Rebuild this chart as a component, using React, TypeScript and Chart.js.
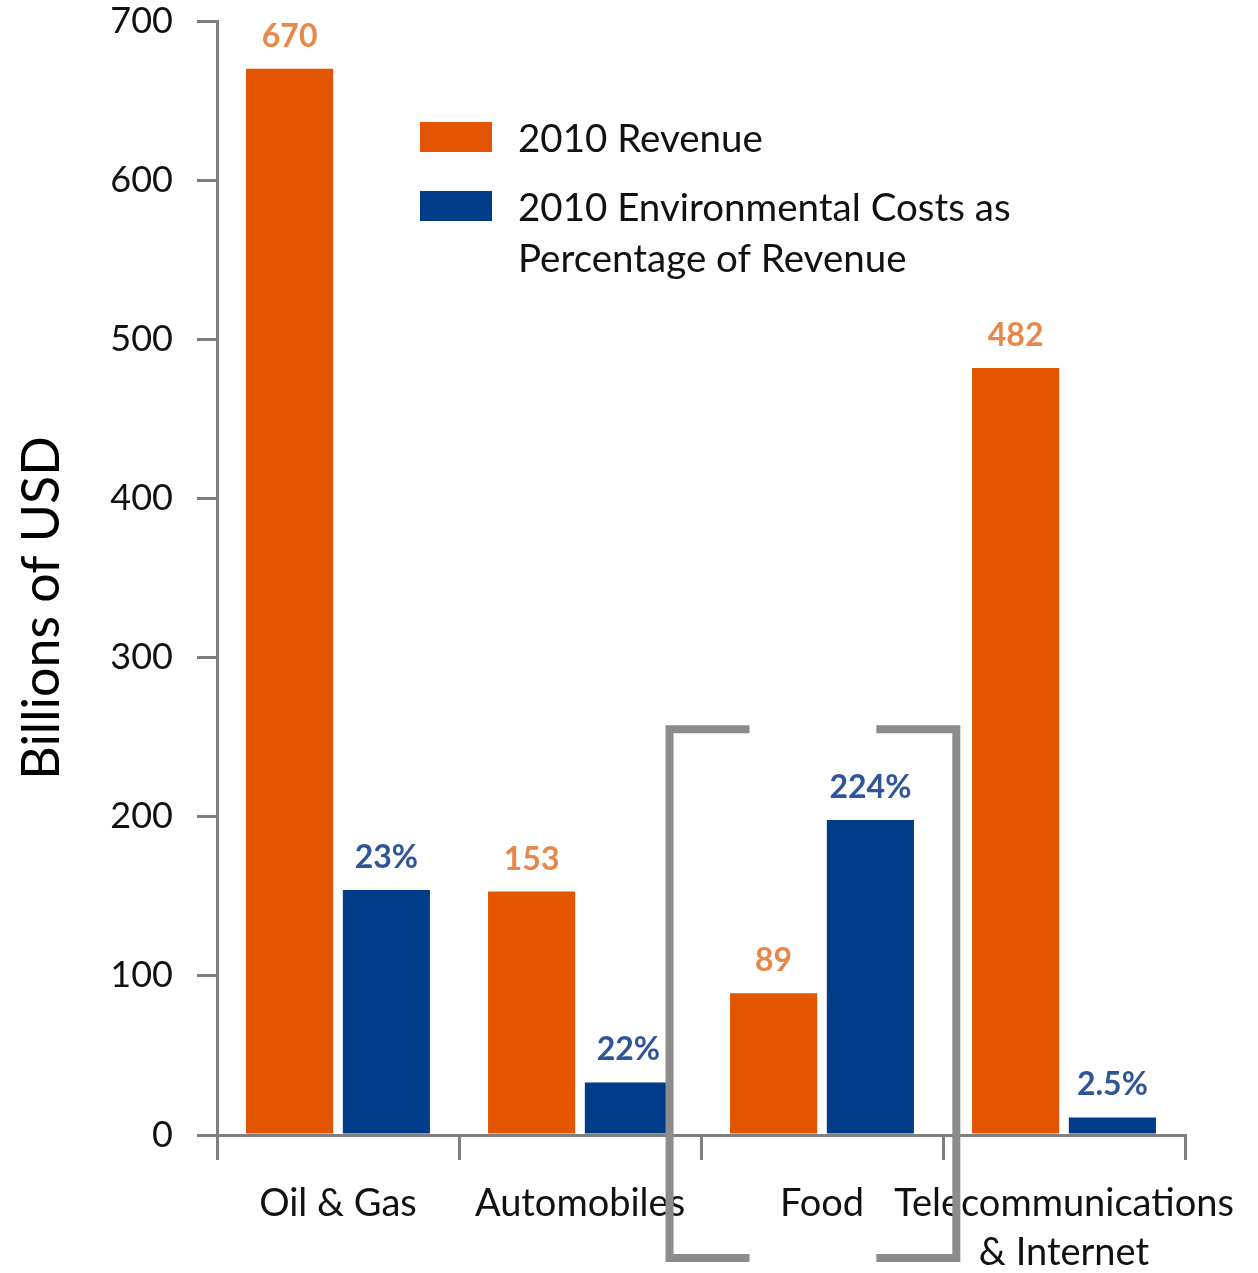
import React, { useEffect, useRef } from "react";
import { Chart, registerables } from "chart.js";

Chart.register(...registerables);

const categories: (string | string[])[] = ["Oil & Gas", "Automobiles", "Food", ["Telecommunications", "& Internet"]];
const revenue = [670, 153, 89, 482];
const envCostBars = [154, 33, 198, 11];
const revenueLabels = ["670", "153", "89", "482"];
const envCostLabels = ["23%", "22%", "224%", "2.5%"];
const seriesNames = ["2010 Revenue", "2010 Environmental Costs as\nPercentage of Revenue"];
const yAxisTitle = "Billions of USD";
const highlightIndex = 2;

const ORANGE = "#E35500";
const BLUE = "#003C88";
const ORANGE_TXT = "#E8874A";
const BLUE_TXT = "#2F5597";
const AXIS = "#7f7f7f";
const FONT = "Lato";

const W = 1258;
const H = 1273;

export default function App() {
  const ref = useRef<HTMLCanvasElement | null>(null);

  useEffect(() => {
    document.body.style.margin = "0";
    const canvas = ref.current!;
    const labelsPlugin = {
      id: "barLabels",
      afterDatasetsDraw(chart: any) {
        const ctx = chart.ctx;
        ctx.save();
        ctx.font = `bold 32px ${FONT}`;
        ctx.textAlign = "center";
        ctx.textBaseline = "alphabetic";
        const lists = [revenueLabels, envCostLabels];
        const colors = [ORANGE_TXT, BLUE_TXT];
        chart.data.datasets.forEach((_: any, di: number) => {
          const meta = chart.getDatasetMeta(di);
          meta.data.forEach((el: any, i: number) => {
            ctx.fillStyle = colors[di];
            ctx.fillText(lists[di][i], el.x, el.y - 22);
          });
        });
        ctx.restore();
      },
    };
    const extrasPlugin = {
      id: "extras",
      afterDraw(chart: any) {
        const ctx = chart.ctx;
        const area = chart.chartArea;
        const xs = chart.scales.x;
        const ys = chart.scales.y;
        // y axis title
        ctx.save();
        ctx.fillStyle = "#000";
        ctx.font = `52px ${FONT}`;
        ctx.textAlign = "center";
        ctx.textBaseline = "middle";
        ctx.translate(42, (area.top + area.bottom) / 2 + 30);
        ctx.rotate(-Math.PI / 2);
        ctx.fillText(yAxisTitle, 0, 0);
        ctx.restore();

        // legend
        ctx.save();
        const lx = 420;
        const rows = [
          { y: 122, color: ORANGE },
          { y: 191, color: BLUE },
        ];
        ctx.font = `38.5px ${FONT}`;
        ctx.textBaseline = "middle";
        ctx.textAlign = "left";
        rows.forEach((r, i) => {
          ctx.fillStyle = r.color;
          ctx.fillRect(lx, r.y, 72, 30);
          ctx.fillStyle = "#111";
          const lines = seriesNames[i].split("\n");
          lines.forEach((ln, k) => ctx.fillText(ln, lx + 98, r.y + 18 + k * 51));
        });
        ctx.restore();

        // bracket around highlighted category
        const cx = xs.getPixelForValue(highlightIndex);
        const catW = (xs.right - xs.left) / categories.length;
        const top = ys.getPixelForValue(255);
        const bottom = area.bottom + 123;
        const lxB = cx - catW * 0.63;
        const rxB = cx + catW * 0.555;
        const arm = 80;
        ctx.save();
        ctx.strokeStyle = "#8c8c8c";
        ctx.lineWidth = 8;
        ctx.lineJoin = "miter";
        ctx.beginPath();
        ctx.moveTo(lxB + arm, top);
        ctx.lineTo(lxB, top);
        ctx.lineTo(lxB, bottom);
        ctx.lineTo(lxB + arm, bottom);
        ctx.stroke();
        ctx.beginPath();
        ctx.moveTo(rxB - arm, top);
        ctx.lineTo(rxB, top);
        ctx.lineTo(rxB, bottom);
        ctx.lineTo(rxB - arm, bottom);
        ctx.stroke();
        ctx.restore();
      },
    };

    const chart = new Chart(canvas, {
      type: "bar",
      data: {
        labels: categories as any,
        datasets: [
          { label: seriesNames[0], data: revenue, backgroundColor: ORANGE },
          { label: seriesNames[1], data: envCostBars, backgroundColor: BLUE },
        ],
      },
      options: {
        responsive: false,
        animation: false,
        events: [],
        datasets: { bar: { categoryPercentage: 0.8, barPercentage: 0.9 } },
        layout: { padding: { top: 21, right: 73, left: 0, bottom: 0 } },
        plugins: { legend: { display: false }, tooltip: { enabled: false } },
        scales: {
          x: {
            type: "category",
            offset: true,
            grid: { offset: true, drawOnChartArea: false, drawTicks: true, tickLength: 25, color: AXIS, lineWidth: 3 },
            border: { display: true, color: AXIS, width: 3 },
            ticks: { color: "#111", font: { family: FONT, size: 38, lineHeight: 1.3 }, padding: 19, maxRotation: 0, minRotation: 0, autoSkip: false },
            afterFit: (s: any) => { s.height = 138; s.paddingLeft = 0; s.paddingRight = 0; },
          },
          y: {
            min: 0,
            max: 700,
            ticks: { stepSize: 100, color: "#111", font: { family: FONT, size: 36, lineHeight: 1.1 }, padding: 24 },
            grid: { drawOnChartArea: false, tickLength: 20, color: AXIS, lineWidth: 3 },
            border: { display: true, color: AXIS, width: 3 },
            afterFit: (s: any) => { s.width = 217; s.paddingTop = 0; s.paddingBottom = 0; },
          },
        },
      },
      plugins: [labelsPlugin, extrasPlugin],
    });
    return () => chart.destroy();
  }, []);

  return (
    <div style={{ position: "absolute", left: 0, top: 0, width: W, height: H, background: "#fff" }}>
      <canvas ref={ref} width={W} height={H} style={{ width: W, height: H, display: "block" }} />
    </div>
  );
}
